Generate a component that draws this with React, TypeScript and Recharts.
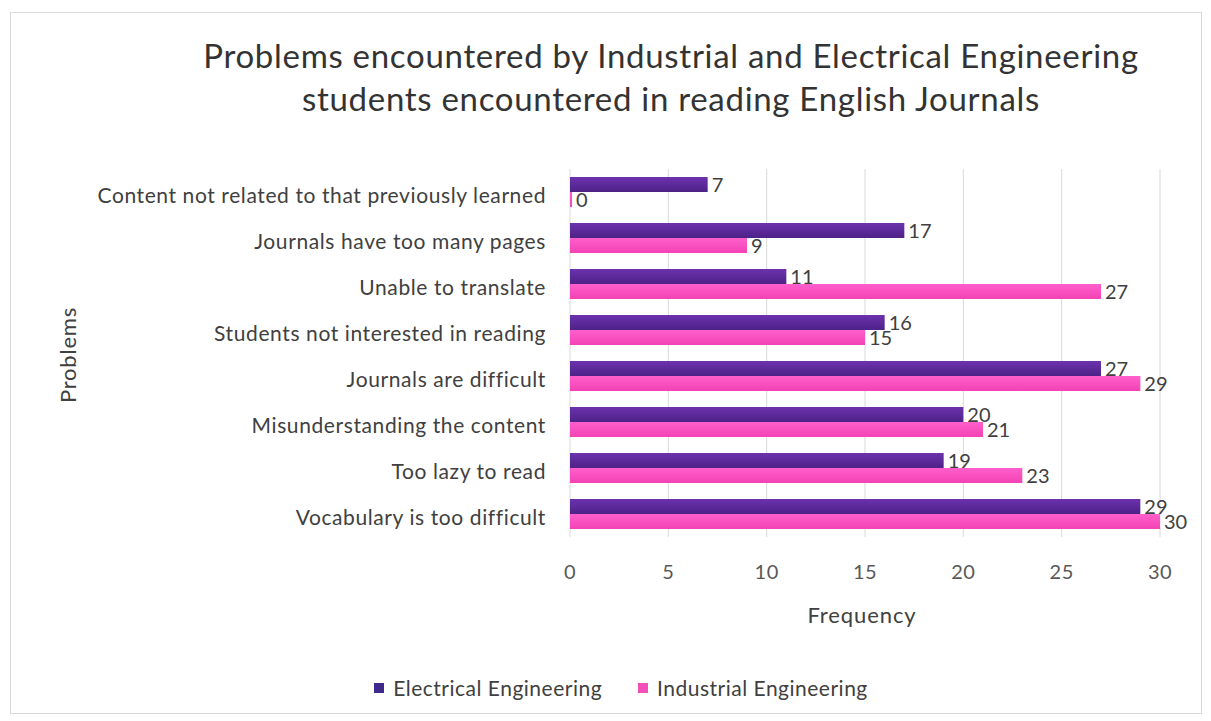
import { BarChart, Bar, XAxis, YAxis, CartesianGrid, LabelList } from 'recharts';

const problems = [
  'Content not related to that previously learned',
  'Journals have too many pages',
  'Unable to translate',
  'Students not interested in reading',
  'Journals are difficult',
  'Misunderstanding the content',
  'Too lazy to read',
  'Vocabulary is too difficult',
];
const electrical = [7, 17, 11, 16, 27, 20, 19, 29];
const industrial = [0, 9, 27, 15, 29, 21, 23, 30];
const xTicks = [0, 5, 10, 15, 20, 25, 30];

const series = [
  { key: 'electrical', name: 'Electrical Engineering', fill: 'url(#gradE)', legend: '#3d2a8c' },
  { key: 'industrial', name: 'Industrial Engineering', fill: 'url(#gradI)', legend: '#f24fba' },
];

const data = problems.map((problem, i) => ({
  problem,
  electrical: electrical[i],
  industrial: industrial[i],
}));

const font = 'Lato, "Open Sans", sans-serif';
const textColor = '#404040';

export default function App() {
  return (
    <div
      style={{
        position: 'absolute',
        left: 10,
        top: 12,
        width: 1190,
        height: 700,
        border: '1px solid #d9d9d9',
        background: '#fff',
        fontFamily: font,
        color: textColor,
      }}
    >
      <div
        style={{
          position: 'absolute',
          left: 0,
          top: 21,
          width: 1320,
          textAlign: 'center',
          fontSize: 33,
          letterSpacing: 0.7,
          lineHeight: '43px',
          color: '#333',
        }}
      >
        Problems encountered by Industrial and Electrical Engineering
        <br />
        students encountered in reading English Journals
      </div>
      <div
        style={{
          position: 'absolute',
          left: 56,
          top: 342,
          fontSize: 22,
          letterSpacing: 0.8,
          transform: 'translate(-50%, -50%) rotate(-90deg)',
          whiteSpace: 'nowrap',
        }}
      >
        Problems
      </div>
      <div
        style={{
          position: 'absolute',
          left: 851,
          top: 601,
          fontSize: 22,
          letterSpacing: 0.9,
          transform: 'translate(-50%, -50%)',
        }}
      >
        Frequency
      </div>
      <div style={{ position: 'absolute', left: 0, top: 0 }}>
        <BarChart
          width={1190}
          height={700}
          data={data}
          layout="vertical"
          margin={{ top: 156, right: 41, left: 0, bottom: 146 }}
          barGap={0}
          barSize={15}
        >
          <defs>
            <linearGradient id="gradE" x1="0" y1="0" x2="0" y2="1">
              <stop offset="0%" stopColor="#6c32ad" />
              <stop offset="100%" stopColor="#4d2288" />
            </linearGradient>
            <linearGradient id="gradI" x1="0" y1="0" x2="0" y2="1">
              <stop offset="0%" stopColor="#ff5fcb" />
              <stop offset="100%" stopColor="#f342b5" />
            </linearGradient>
          </defs>
          <CartesianGrid horizontal={false} stroke="#d9d9d9" />
          <XAxis
            type="number"
            domain={[0, 30]}
            ticks={xTicks}
            axisLine={false}
            tickLine={false}
            tickMargin={22}
            height={30}
            tick={{ fill: '#595959', fontSize: 20, fontFamily: font, letterSpacing: 0.5 }}
          />
          <YAxis
            type="category"
            dataKey="problem"
            width={559}
            axisLine={false}
            tickLine={false}
            tickMargin={18}
            interval={0}
            tick={{ fill: textColor, fontSize: 21, fontFamily: font, letterSpacing: 0.6, dy: 4 }}
          />
          {series.map((s) => (
            <Bar
              key={s.key}
              dataKey={s.key}
              name={s.name}
              fill={s.fill}
              minPointSize={2}
              isAnimationActive={false}
            >
              <LabelList
                dataKey={s.key}
                position="right"
                offset={4}
                style={{ fill: textColor, fontSize: 20, fontFamily: font }}
              />
            </Bar>
          ))}
        </BarChart>
      </div>
      <div
        style={{
          position: 'absolute',
          left: 0,
          top: 662,
          width: 1220,
          display: 'flex',
          justifyContent: 'center',
          gap: 36,
          fontSize: 21,
          letterSpacing: 0.5,
        }}
      >
        {series.map((s) => (
          <div key={s.key} style={{ display: 'flex', alignItems: 'center', gap: 9 }}>
            <div style={{ width: 10, height: 10, background: s.legend }} />
            <span>{s.name}</span>
          </div>
        ))}
      </div>
    </div>
  );
}
